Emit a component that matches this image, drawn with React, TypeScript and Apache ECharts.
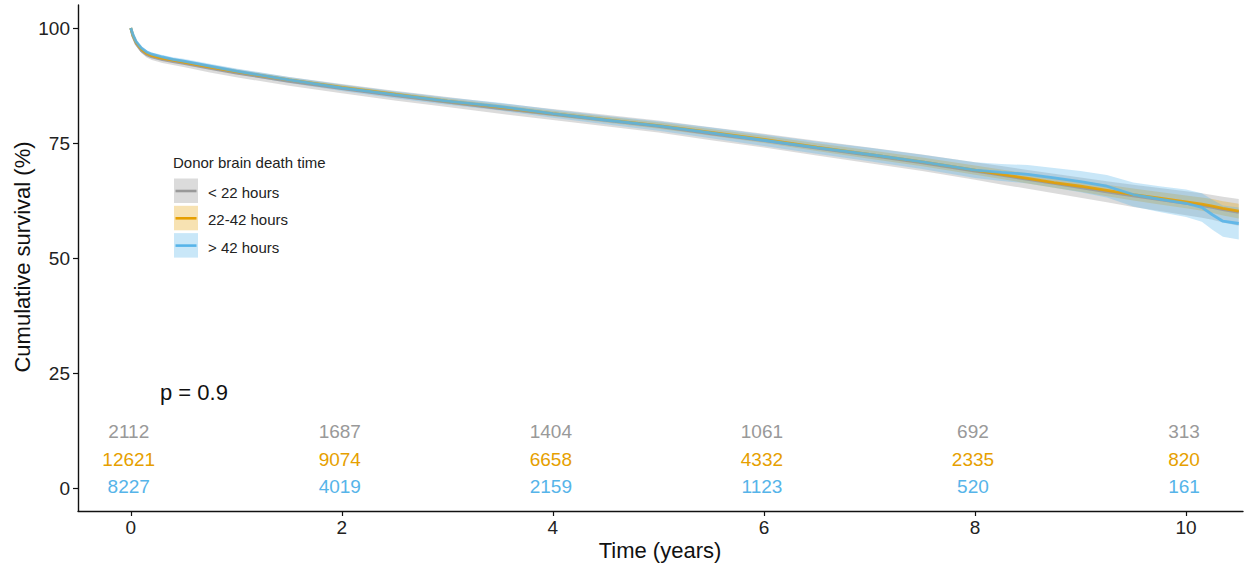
import React, { useEffect, useRef } from 'react';
import * as echarts from 'echarts';

// Time points (years) at which the curves were read
const times = [0, 0.02, 0.05, 0.1, 0.15, 0.2, 0.3, 0.4, 0.5, 0.75, 1, 1.5, 2, 2.5, 3, 3.5, 4, 4.5, 5, 5.5, 6, 6.5, 7, 7.5, 8, 8.25, 8.5, 8.75, 9, 9.25, 9.5, 9.75, 10, 10.15, 10.25, 10.35, 10.5];

// Survival (%) per group
const survShort = [100, 98.2, 96.6, 95.1, 94.2, 93.7, 93.1, 92.7, 92.3, 91.2, 90.2, 88.4, 86.8, 85.3, 83.9, 82.5, 81.2, 79.9, 78.6, 77.0, 75.5, 73.9, 72.3, 70.7, 68.9, 68.0, 67.1, 66.2, 65.3, 64.4, 63.5, 62.7, 61.9, 61.4, 61.0, 60.5, 59.9];
const survMid = [100, 98.4, 96.9, 95.4, 94.5, 94.0, 93.4, 93.0, 92.6, 91.5, 90.5, 88.7, 87.1, 85.6, 84.1, 82.8, 81.4, 80.1, 78.8, 77.3, 75.8, 74.1, 72.5, 70.9, 69.1, 68.2, 67.3, 66.4, 65.6, 64.7, 63.8, 63.0, 62.2, 61.7, 61.3, 60.8, 60.2];
const survLong = [100, 98.6, 97.1, 95.7, 94.8, 94.3, 93.7, 93.2, 92.8, 91.7, 90.6, 88.7, 87.0, 85.5, 84.1, 82.9, 81.4, 80.0, 78.7, 77.2, 75.6, 74.0, 72.5, 70.9, 69.1, 68.6, 68.2, 67.4, 66.6, 65.6, 63.8, 62.8, 61.9, 61.0, 59.4, 58.0, 57.5];

// Confidence band half-widths (%)
const ciShort = [0, 0.3, 0.45, 0.55, 0.6, 0.65, 0.7, 0.75, 0.8, 0.85, 0.9, 0.95, 1.0, 1.05, 1.1, 1.15, 1.2, 1.25, 1.3, 1.4, 1.5, 1.6, 1.7, 1.8, 1.9, 2.0, 2.05, 2.1, 2.2, 2.3, 2.4, 2.5, 2.6, 2.65, 2.7, 2.8, 2.9];
const ciMid = [0, 0.1, 0.2, 0.25, 0.3, 0.3, 0.35, 0.35, 0.4, 0.4, 0.45, 0.45, 0.5, 0.5, 0.55, 0.55, 0.6, 0.65, 0.7, 0.75, 0.8, 0.85, 0.9, 0.95, 1.0, 1.05, 1.1, 1.15, 1.2, 1.25, 1.3, 1.35, 1.4, 1.45, 1.5, 1.55, 1.6];
const ciLong = [0, 0.15, 0.25, 0.3, 0.35, 0.4, 0.45, 0.45, 0.5, 0.55, 0.6, 0.65, 0.7, 0.75, 0.8, 0.85, 0.9, 0.95, 1.05, 1.15, 1.25, 1.35, 1.45, 1.55, 1.7, 1.85, 2.0, 2.15, 2.3, 2.45, 2.6, 2.8, 3.0, 3.1, 3.25, 3.4, 3.5];

// Numbers at risk
const riskTimes = [0, 2, 4, 6, 8, 10];
const riskShort = [2112, 1687, 1404, 1061, 692, 313];
const riskMid = [12621, 9074, 6658, 4332, 2335, 820];
const riskLong = [8227, 4019, 2159, 1123, 520, 161];

const groupNames = ['< 22 hours', '22-42 hours', '> 42 hours'];
const legendTitle = 'Donor brain death time';
const xTicks = [0, 2, 4, 6, 8, 10];
const yTicks = [0, 25, 50, 75, 100];
const pText = 'p = 0.9';

const FONT = '"Liberation Sans", Arial, Helvetica, sans-serif';
const lineColors = ['#999999', '#E69F00', '#56B4E9'];
const bandColors = ['rgba(153,153,153,0.35)', 'rgba(230,159,0,0.3)', 'rgba(86,180,233,0.32)'];
const riskRowY = [12.2, 6.3, 0.3];

const survs = [survShort, survMid, survLong];
const cis = [ciShort, ciMid, ciLong];
const risks = [riskShort, riskMid, riskLong];

export default function App() {
  const ref = useRef<HTMLDivElement>(null);
  useEffect(() => {
    document.body.style.margin = '0';
    if (!ref.current) return;
    const chart = echarts.init(ref.current, undefined, { renderer: 'svg' });

    const bandSeries = survs.map((s, g) => ({
      type: 'custom',
      silent: true,
      z: 1,
      data: [[0, 100]],
      renderItem: (params: any, api: any) => {
        const ci = cis[g];
        const up = times.map((t, i) => api.coord([t, s[i] + ci[i]]));
        const lo = times.map((t, i) => api.coord([t, s[i] - ci[i]])).reverse();
        return {
          type: 'polygon',
          shape: { points: up.concat(lo) },
          style: { fill: bandColors[g], stroke: 'none' },
        };
      },
    }));

    const lineSeries = survs.map((s, g) => ({
      type: 'line',
      name: groupNames[g],
      z: 3,
      silent: true,
      showSymbol: false,
      symbol: 'none',
      data: times.map((t, i) => [t, s[i]]),
      lineStyle: { color: lineColors[g], width: 2.8, opacity: 0.88 },
    }));

    const riskSeries = risks.map((r, g) => ({
      type: 'custom',
      silent: true,
      z: 4,
      data: riskTimes.map((t, i) => [t, riskRowY[g], r[i]]),
      renderItem: (params: any, api: any) => {
        const p = api.coord([api.value(0), api.value(1)]);
        return {
          type: 'text',
          x: p[0] - 2,
          y: p[1],
          style: {
            text: String(api.value(2)),
            fill: lineColors[g],
            fontSize: 19,
            fontFamily: FONT,
            align: 'center',
            verticalAlign: 'middle',
          },
        };
      },
    }));

    const legendEls: any[] = [
      {
        type: 'text',
        left: 173,
        top: 155,
        style: { text: legendTitle, fontSize: 15, fontFamily: FONT, fill: '#222' },
      },
    ];
    groupNames.forEach((name, g) => {
      const y0 = 178.5 + g * 27.3;
      legendEls.push({
        type: 'rect',
        shape: { x: 174, y: y0, width: 24, height: 24.5 },
        style: { fill: bandColors[g] },
      });
      legendEls.push({
        type: 'line',
        shape: { x1: 175.5, y1: y0 + 12.5, x2: 196.5, y2: y0 + 12.5 },
        style: { stroke: lineColors[g], lineWidth: 2.6 },
      });
      legendEls.push({
        type: 'text',
        x: 208,
        y: y0 + 14,
        style: { text: name, fontSize: 15, fontFamily: FONT, fill: '#222', verticalAlign: 'middle' },
      });
    });

    chart.setOption({
      animation: false,
      grid: { left: 78, right: 7, top: 5, bottom: 59, containLabel: false, outerBoundsMode: 'none' },
      xAxis: {
        type: 'value',
        min: -0.5,
        max: 10.54,
        splitLine: { show: false },
        axisLine: { onZero: false, lineStyle: { color: '#111', width: 1.4 } },
        axisTick: { show: true, length: 5, lineStyle: { color: '#111', width: 1.2 }, customValues: xTicks },
        axisLabel: { customValues: xTicks, fontSize: 19, fontFamily: FONT, color: '#222', margin: 7 },
      },
      yAxis: {
        type: 'value',
        min: -5,
        max: 105,
        splitLine: { show: false },
        axisLine: { show: true, onZero: false, lineStyle: { color: '#111', width: 1.4 } },
        axisTick: { show: true, length: 5, lineStyle: { color: '#111', width: 1.2 }, customValues: yTicks },
        axisLabel: { customValues: yTicks, fontSize: 19, fontFamily: FONT, color: '#222', margin: 8 },
      },
      graphic: [
        {
          type: 'text',
          x: 22,
          y: 257,
          rotation: Math.PI / 2,
          style: {
            text: 'Cumulative survival (%)',
            fontSize: 22,
            fontFamily: FONT,
            fill: '#111',
            align: 'center',
            verticalAlign: 'middle',
          },
        },
        {
          type: 'text',
          x: 660,
          y: 550,
          style: {
            text: 'Time (years)',
            fontSize: 22,
            fontFamily: FONT,
            fill: '#111',
            align: 'center',
            verticalAlign: 'middle',
          },
        },
        {
          type: 'text',
          x: 160,
          y: 392,
          style: { text: pText, fontSize: 22, fontFamily: FONT, fill: '#111', verticalAlign: 'middle' },
        },
        ...legendEls,
      ],
      series: [...bandSeries, ...lineSeries, ...riskSeries],
    } as any);

    return () => chart.dispose();
  }, []);

  return (
    <div
      ref={ref}
      style={{ width: 1250, height: 570, position: 'fixed', left: 0, top: 0, background: '#fff' }}
    />
  );
}
